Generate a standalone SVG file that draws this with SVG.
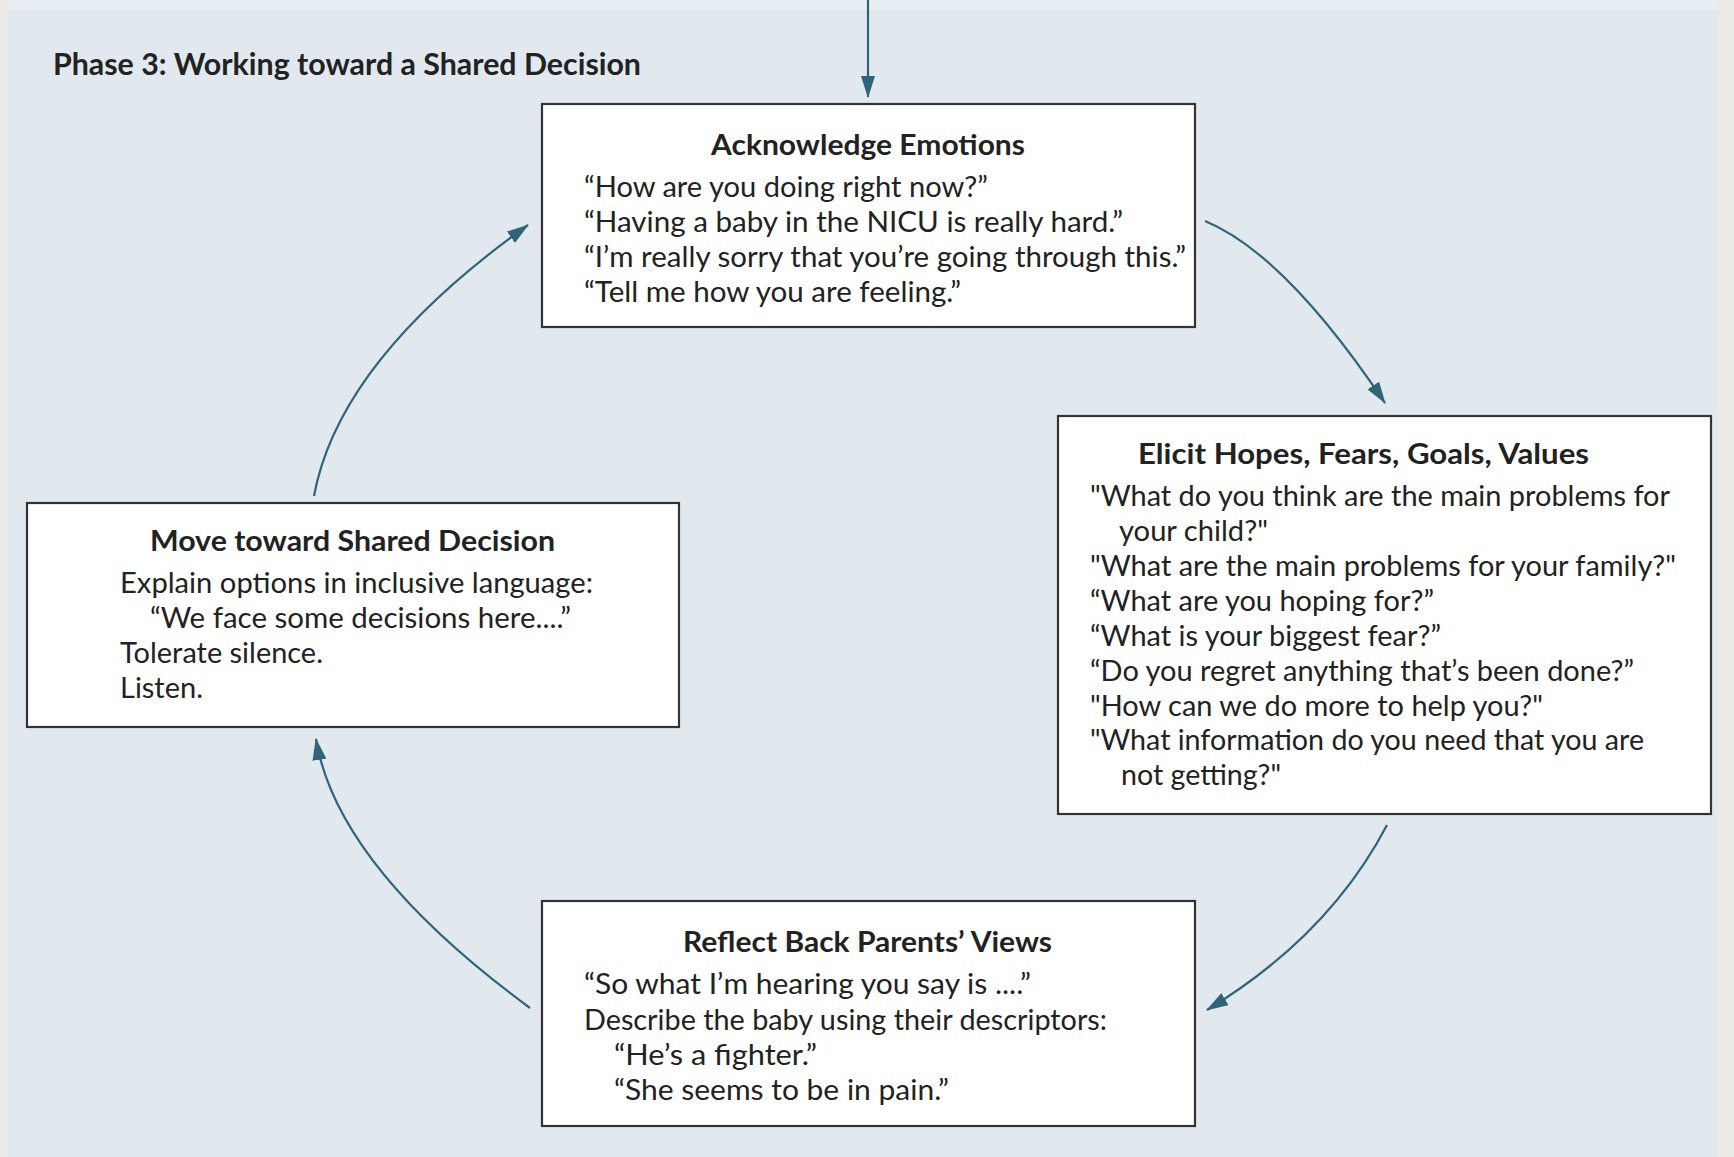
<svg xmlns="http://www.w3.org/2000/svg" width="1734" height="1157" viewBox="0 0 1734 1157">
<defs>
<style>
.bg{fill:#e1e9ef}
.box{fill:#ffffff;stroke:#333333;stroke-width:2.2}
.t{font-family:Lato,"Open Sans","Liberation Sans",sans-serif;font-size:28px;fill:#222222}
.h{font-family:Lato,"Open Sans","Liberation Sans",sans-serif;font-size:29px;font-weight:bold;fill:#222222}
.main{font-family:Lato,"Open Sans","Liberation Sans",sans-serif;font-size:30px;font-weight:bold;fill:#222222}
.conn{fill:none;stroke:#2f6479;stroke-width:2.2}
</style>
<marker id="ah" markerUnits="userSpaceOnUse" markerWidth="22" markerHeight="14" refX="21" refY="7" orient="auto">
<path d="M0,0 L22,7 L0,14 z" fill="#2f6479"/>
</marker>
</defs>
<rect x="0" y="0" width="1734" height="1157" fill="#ecebe7"/>
<rect class="bg" x="8" y="10" width="1710" height="1147"/>
<rect x="8" y="0" width="1710" height="10" fill="#e9eef1"/>
<text class="main" x="53" y="75" textLength="588" lengthAdjust="spacingAndGlyphs">Phase 3: Working toward a Shared Decision</text>

<g id="connectors">
<path class="conn" d="M868,0 L868,97" marker-end="url(#ah)"/>
<path class="conn" d="M1205,221 Q1285,254 1385,403" marker-end="url(#ah)"/>
<path class="conn" d="M1387,825 Q1329,936 1207,1010" marker-end="url(#ah)"/>
<path class="conn" d="M530,1008 Q337,866 316,739" marker-end="url(#ah)"/>
<path class="conn" d="M314,496 Q339,360 528,225" marker-end="url(#ah)"/>
</g>

<g id="node-acknowledge">
<rect class="box" x="542" y="104" width="653" height="223"/>
<text class="h" x="711" y="155" textLength="314" lengthAdjust="spacingAndGlyphs">Acknowledge Emotions</text>
<text class="t" x="584" y="197" textLength="404" lengthAdjust="spacingAndGlyphs">“How are you doing right now?”</text>
<text class="t" x="584" y="232" textLength="539" lengthAdjust="spacingAndGlyphs">“Having a baby in the NICU is really hard.”</text>
<text class="t" x="584" y="267" textLength="602" lengthAdjust="spacingAndGlyphs">“I’m really sorry that you’re going through this.”</text>
<text class="t" x="584" y="302" textLength="377" lengthAdjust="spacingAndGlyphs">“Tell me how you are feeling.”</text>
</g>

<g id="node-elicit">
<rect class="box" x="1058" y="416" width="653" height="398"/>
<text class="h" x="1138" y="464" textLength="451" lengthAdjust="spacingAndGlyphs">Elicit Hopes, Fears, Goals, Values</text>
<text class="t" x="1090" y="506" textLength="580" lengthAdjust="spacingAndGlyphs">"What do you think are the main problems for</text>
<text class="t" x="1119" y="541" textLength="149" lengthAdjust="spacingAndGlyphs">your child?"</text>
<text class="t" x="1090" y="576" textLength="586" lengthAdjust="spacingAndGlyphs">"What are the main problems for your family?"</text>
<text class="t" x="1090" y="611" textLength="344" lengthAdjust="spacingAndGlyphs">“What are you hoping for?”</text>
<text class="t" x="1090" y="646" textLength="351" lengthAdjust="spacingAndGlyphs">“What is your biggest fear?”</text>
<text class="t" x="1090" y="681" textLength="544" lengthAdjust="spacingAndGlyphs">“Do you regret anything that’s been done?”</text>
<text class="t" x="1090" y="716" textLength="453" lengthAdjust="spacingAndGlyphs">"How can we do more to help you?"</text>
<text class="t" x="1090" y="750" textLength="554" lengthAdjust="spacingAndGlyphs">"What information do you need that you are</text>
<text class="t" x="1121" y="785" textLength="160" lengthAdjust="spacingAndGlyphs">not getting?"</text>
</g>

<g id="node-move">
<rect class="box" x="27" y="503" width="652" height="224"/>
<text class="h" x="150" y="551" textLength="405" lengthAdjust="spacingAndGlyphs">Move toward Shared Decision</text>
<text class="t" x="120" y="593" textLength="473" lengthAdjust="spacingAndGlyphs">Explain options in inclusive language:</text>
<text class="t" x="150" y="628" textLength="421" lengthAdjust="spacingAndGlyphs">“We face some decisions here....”</text>
<text class="t" x="120" y="663" textLength="203" lengthAdjust="spacingAndGlyphs">Tolerate silence.</text>
<text class="t" x="120" y="698" textLength="83" lengthAdjust="spacingAndGlyphs">Listen.</text>
</g>

<g id="node-reflect">
<rect class="box" x="542" y="901" width="653" height="225"/>
<text class="h" x="683" y="952" textLength="369" lengthAdjust="spacingAndGlyphs">Reflect Back Parents’ Views</text>
<text class="t" x="584" y="994" textLength="447" lengthAdjust="spacingAndGlyphs">“So what I’m hearing you say is ....”</text>
<text class="t" x="584" y="1030" textLength="523" lengthAdjust="spacingAndGlyphs">Describe the baby using their descriptors:</text>
<text class="t" x="614" y="1065" textLength="203" lengthAdjust="spacingAndGlyphs">“He’s a fighter.”</text>
<text class="t" x="614" y="1100" textLength="335" lengthAdjust="spacingAndGlyphs">“She seems to be in pain.”</text>
</g>
</svg>
